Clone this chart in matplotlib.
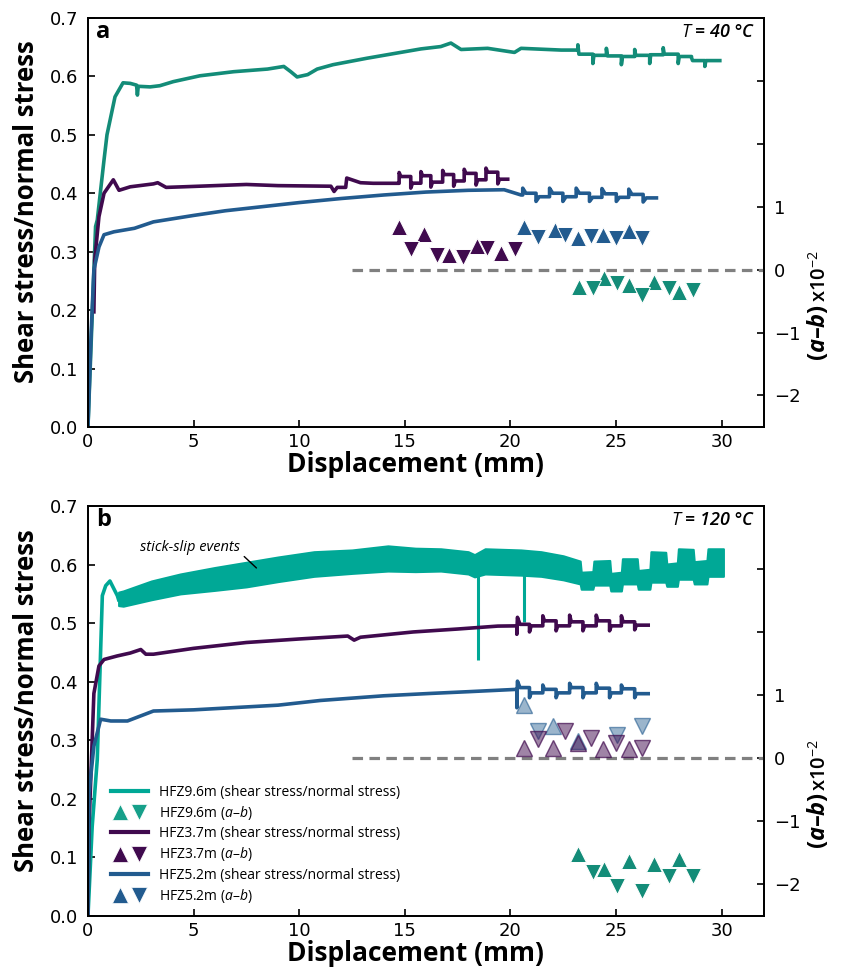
import matplotlib
matplotlib.use("Agg")
import matplotlib.pyplot as plt
from matplotlib.lines import Line2D
from matplotlib.colors import to_rgba
from matplotlib.legend_handler import HandlerTuple

plt.rcParams['mathtext.fontset'] = 'custom'
plt.rcParams['mathtext.rm'] = 'Open Sans'
plt.rcParams['mathtext.it'] = 'Open Sans:italic'
plt.rcParams['mathtext.bf'] = 'Open Sans:italic:bold'

TEAL = '#138c78'
TEAL_B = '#00a896'
PURPLE = '#400a4e'
BLUE = '#225b8f'
GREY = '#808080'

# ---------------- panel a (T = 40 C) ----------------
a_teal_x = [0, 0.36, 0.44, 0.76, 0.9, 1.28, 1.66, 2.0, 2.3, 2.34, 2.38, 2.94, 3.4, 4.04, 5.3, 6.9,
            8.5, 9.27, 9.6, 9.9, 10.4, 10.85, 11.6, 13.2, 14.8, 15.76, 16.7, 17.18, 17.66, 18.92,
            20.19, 20.5, 22.4]
a_teal_y = [0, 0.343, 0.354, 0.457, 0.5, 0.565, 0.589, 0.588, 0.585, 0.568, 0.583, 0.582, 0.584,
            0.591, 0.601, 0.608, 0.6125, 0.617, 0.608, 0.599, 0.603, 0.6125, 0.62, 0.631, 0.641,
            0.647, 0.651, 0.657, 0.646, 0.648, 0.641, 0.648, 0.645]
a_teal_step_x = [23.19, 23.9, 24.54, 25.25, 25.88, 26.59, 27.23, 27.94, 28.57, 29.2]
a_teal_spike = [0.654, 0.622, 0.648, 0.620, 0.646, 0.622, 0.649, 0.622, 0.632, 0.617]
a_teal_level = [0.638, 0.636, 0.635, 0.634, 0.636, 0.637, 0.638, 0.634, 0.627, 0.627]
a_teal_end = 29.91

a_purple_x = [0.28, 0.32, 0.52, 0.76, 1.2, 1.47, 2.0, 3.1, 3.3, 3.7, 4.5, 6.0, 7.5, 9.0, 11.5,
              11.65, 11.8, 12.2, 12.25, 12.9, 13.5, 14.7]
a_purple_y = [0.197, 0.286, 0.36, 0.40, 0.423, 0.405, 0.411, 0.416, 0.418, 0.41, 0.411, 0.413,
              0.415, 0.413, 0.412, 0.403, 0.41, 0.41, 0.426, 0.418, 0.417, 0.417]
a_purple_step_x = [14.73, 15.28, 15.76, 16.23, 16.79, 17.31, 17.81, 18.37, 18.84, 19.4]
a_purple_spike = [0.4355, 0.4087, 0.437, 0.4105, 0.439, 0.412, 0.441, 0.414, 0.443, 0.416]
a_purple_level = [0.4286, 0.4172, 0.430, 0.419, 0.432, 0.421, 0.434, 0.423, 0.436, 0.424]
a_purple_end = 19.87

a_blue_x = [0, 0.15, 0.28, 0.52, 0.76, 1.23, 2.2, 3.1, 5.0, 6.5, 8.0, 10.0, 12.0, 14.0, 16.0,
            18.0, 19.7, 20.5]
a_blue_y = [0, 0.16, 0.269, 0.308, 0.329, 0.334, 0.34, 0.351, 0.362, 0.37, 0.376, 0.384, 0.391,
            0.397, 0.402, 0.405, 0.406, 0.397]
a_blue_step_x = [20.58, 21.21, 21.85, 22.48, 23.11, 23.74, 24.33, 25.01, 25.6, 26.28]
a_blue_spike = [0.4087, 0.386, 0.4087, 0.386, 0.4087, 0.386, 0.408, 0.386, 0.407, 0.385]
a_blue_level = [0.400, 0.394, 0.400, 0.394, 0.400, 0.393, 0.399, 0.393, 0.398, 0.392]
a_blue_end = 26.91

# (a-b) x10^-2, alternating up-step / down-step
a_purple_ab_x = [14.7, 15.3, 15.9, 16.5, 17.1, 17.75, 18.4, 18.9, 19.55, 20.2]
a_purple_ab = [0.67, 0.33, 0.57, 0.23, 0.23, 0.20, 0.37, 0.35, 0.26, 0.33]
a_blue_ab_x = [20.65, 21.3, 22.1, 22.6, 23.2, 23.8, 24.4, 25.0, 25.6, 26.25]
a_blue_ab = [0.67, 0.52, 0.63, 0.55, 0.50, 0.54, 0.55, 0.50, 0.62, 0.50]
a_teal_ab_x = [23.25, 23.9, 24.45, 25.05, 25.6, 26.25, 26.8, 27.5, 28.0, 28.65]
a_teal_ab = [-0.27, -0.29, -0.14, -0.22, -0.25, -0.41, -0.19, -0.29, -0.36, -0.32]

# ---------------- panel b (T = 120 C) ----------------
b_teal_x = [0, 0.2, 0.44, 0.68, 0.84, 1.04, 1.39, 1.45]
b_teal_y = [0, 0.153, 0.267, 0.547, 0.564, 0.572, 0.547, 0.54]
band_x = [1.45, 1.67, 3.0, 4.37, 6.0, 7.5, 9.0, 10.7, 12.5, 14.2, 15.5, 16.7, 18.0, 18.3, 18.8,
          20.5, 21.45, 22.5, 23.3, 23.35, 23.9, 23.95, 24.7, 24.75, 25.25, 25.3, 26.0, 26.05,
          26.6, 26.65, 27.35, 27.4, 27.9, 27.95, 28.65, 28.7, 29.3, 29.35, 30.08]
band_hi = [0.553, 0.555, 0.572, 0.584, 0.595, 0.604, 0.613, 0.622, 0.625, 0.632, 0.628, 0.627,
           0.622, 0.617, 0.627, 0.625, 0.622, 0.615, 0.606, 0.587, 0.588, 0.606, 0.607, 0.585,
           0.587, 0.610, 0.610, 0.590, 0.592, 0.622, 0.621, 0.601, 0.603, 0.627, 0.626, 0.605,
           0.607, 0.627, 0.627]
band_lo = [0.530, 0.529, 0.540, 0.550, 0.556, 0.562, 0.571, 0.580, 0.585, 0.589, 0.588, 0.589,
           0.584, 0.579, 0.584, 0.582, 0.580, 0.574, 0.567, 0.558, 0.558, 0.565, 0.565, 0.555,
           0.555, 0.567, 0.567, 0.558, 0.558, 0.570, 0.570, 0.563, 0.563, 0.575, 0.575, 0.567,
           0.567, 0.580, 0.580]
drop_x = [18.45, 20.63]
drop_low = [0.437, 0.502]
drop_top = [0.60, 0.60]

b_purple_x = [0, 0.05, 0.28, 0.52, 0.76, 1.38, 2.0, 2.5, 2.74, 3.1, 5.0, 7.5, 10.0, 12.3, 12.6,
              12.9, 15.4, 17.5, 19.4, 20.3, 20.3, 20.33, 20.45]
b_purple_y = [0, 0.153, 0.38, 0.427, 0.438, 0.444, 0.449, 0.455, 0.447, 0.447, 0.457, 0.467,
              0.473, 0.478, 0.471, 0.476, 0.485, 0.49, 0.495, 0.4954, 0.481, 0.51, 0.498]
b_purple_step_x = [20.9, 21.53, 22.16, 22.8, 23.43, 24.06, 24.69, 25.25, 25.88]
b_purple_spike = [0.485, 0.5126, 0.4869, 0.5137, 0.4869, 0.5137, 0.4869, 0.5126, 0.4886]
b_purple_level = [0.4954, 0.504, 0.4954, 0.5023, 0.4954, 0.504, 0.4954, 0.5023, 0.4966]
b_purple_end = 26.52

b_blue_x = [0, 0.05, 0.28, 0.6, 1.08, 1.87, 3.1, 5.0, 7.0, 9.0, 11.0, 12.5, 14.0, 16.2, 18.0,
            20.3, 20.3, 20.33, 20.45]
b_blue_y = [0, 0.21, 0.29, 0.336, 0.333, 0.333, 0.35, 0.352, 0.356, 0.36, 0.368, 0.372, 0.376,
            0.38, 0.383, 0.387, 0.3556, 0.401, 0.39]
b_blue_step_x = [20.9, 21.53, 22.16, 22.8, 23.43, 24.06, 24.69, 25.25, 25.88]
b_blue_spike = [0.3727, 0.3944, 0.3727, 0.3973, 0.3727, 0.3973, 0.3727, 0.3944, 0.3727]
b_blue_level = [0.381, 0.387, 0.381, 0.390, 0.381, 0.389, 0.381, 0.388, 0.3796]
b_blue_end = 26.52

b_teal_ab_x = [23.2, 23.9, 24.45, 25.05, 25.6, 26.25, 26.8, 27.5, 28.0, 28.65]
b_teal_ab = [-1.52, -1.81, -1.76, -2.03, -1.63, -2.10, -1.68, -1.87, -1.60, -1.87]
b_purple_ab_x = [20.65, 21.3, 22.0, 22.6, 23.2, 23.8, 24.4, 25.0, 25.6, 26.25]
b_purple_ab = [0.16, 0.30, 0.16, 0.43, 0.24, 0.32, 0.14, 0.24, 0.14, 0.17]
b_blue_up_x = [20.65, 22.0, 23.2]
b_blue_up = [0.84, 0.51, 0.27]
b_blue_dn_x = [21.3, 25.05, 26.25]
b_blue_dn = [0.43, 0.37, 0.52]

dash_x = [12.5, 32]


def with_steps(bx, by, sx, spike, level, x_end, lag=0.1):
    xs, ys = list(bx), list(by)
    for s, p, l in zip(sx, spike, level):
        prev = ys[-1]
        xs += [s, s, s + lag]
        ys += [prev, p, l]
    xs.append(x_end)
    ys.append(ys[-1])
    return xs, ys


def ab_markers(ax2, xs, vs, color):
    ax2.plot(xs[0::2], vs[0::2], ls='', marker='^', ms=11, mfc=color, mec='white', mew=0.7)
    ax2.plot(xs[1::2], vs[1::2], ls='', marker='v', ms=11, mfc=color, mec='white', mew=0.7)


def style_axes(ax, ax2, label, temp):
    ax.set_xlim(0, 32)
    ax.set_ylim(0, 0.7)
    ax.set_xticks([0, 5, 10, 15, 20, 25, 30])
    ax.set_yticks([0, 0.1, 0.2, 0.3, 0.4, 0.5, 0.6, 0.7])
    ax.set_yticklabels(['0.0', '0.1', '0.2', '0.3', '0.4', '0.5', '0.6', '0.7'])
    ax.tick_params(direction='in', length=5, width=1.2, labelsize=13, pad=4)
    ax.tick_params(axis='y', pad=7)
    ax2.set_ylim(-2.5, 4)
    ax2.set_yticks([-2, -1, 0, 1, 2, 3])
    ax2.set_yticklabels(['\u22122', '\u22121', '0', '1', '', ''])
    ax2.tick_params(direction='in', length=5, width=1.2, labelsize=13, pad=7)
    for sp in list(ax.spines.values()) + list(ax2.spines.values()):
        sp.set_linewidth(1.3)
    ax.set_xlabel('Displacement (mm)', family='Open Sans', fontweight='bold', fontsize=19)
    ax.xaxis.set_label_coords(0.485, -0.058)
    ax.set_ylabel('Shear stress/normal stress', family='Open Sans', fontweight='bold',
                  fontsize=18.5)
    ax.yaxis.set_label_coords(-0.071, 0.526)
    # right-hand (a-b) label, set lower than centre as in the original
    ax.text(1.08, 0.232, r'($\mathbf{a}$–$\mathbf{b}$)', transform=ax.transAxes, rotation=90,
            family='Open Sans', fontweight='bold', fontsize=17, ha='center', va='center')
    ax.text(1.082, 0.368, r'x10$^{-2}$', transform=ax.transAxes, rotation=90,
            family='Open Sans', fontweight='semibold', fontsize=14.5, ha='center', va='center')
    ax.text(0.012, 0.966, label, transform=ax.transAxes, family='Open Sans', fontweight='bold',
            fontsize=17, ha='left', va='center')
    ax.text(0.987, 0.966, r'$\mathit{T}$ = ' + temp + ' °C', transform=ax.transAxes,
            family='Open Sans', fontstyle='italic', fontweight='semibold', fontsize=13,
            ha='right', va='center')
    ax2.hlines(0, dash_x[0], dash_x[1], colors=GREY, lw=2.3, linestyles=(0, (3.3, 2.0)))


fig = plt.figure(figsize=(8.41, 9.75), dpi=100)

# ---- panel a ----
ax = fig.add_axes([0.1046, 0.5621, 0.8038, 0.4195])
ax2 = ax.twinx()
x, y = with_steps(a_teal_x, a_teal_y, a_teal_step_x, a_teal_spike, a_teal_level, a_teal_end, 0.05)
ax.plot(x, y, color=TEAL, lw=2.6)
x, y = with_steps(a_purple_x, a_purple_y, a_purple_step_x, a_purple_spike, a_purple_level,
                  a_purple_end, 0.08)
ax.plot(x, y, color=PURPLE, lw=2.6)
x, y = with_steps(a_blue_x, a_blue_y, a_blue_step_x, a_blue_spike, a_blue_level, a_blue_end, 0.15)
ax.plot(x, y, color=BLUE, lw=2.6)
style_axes(ax, ax2, 'a', '40')
ab_markers(ax2, a_purple_ab_x, a_purple_ab, PURPLE)
ab_markers(ax2, a_blue_ab_x, a_blue_ab, BLUE)
ab_markers(ax2, a_teal_ab_x, a_teal_ab, TEAL)

# ---- panel b ----
bx = fig.add_axes([0.1046, 0.0605, 0.8038, 0.4205])
bx2 = bx.twinx()
bx.plot(b_teal_x, b_teal_y, color=TEAL_B, lw=2.6)
bx.fill_between(band_x, band_lo, band_hi, color=TEAL_B, lw=1.5, edgecolor=TEAL_B)
bx.vlines(drop_x, drop_low, drop_top, colors=TEAL_B, lw=2.2)
x, y = with_steps(b_purple_x, b_purple_y, b_purple_step_x, b_purple_spike, b_purple_level,
                  b_purple_end, 0.08)
bx.plot(x, y, color=PURPLE, lw=2.6)
x, y = with_steps(b_blue_x, b_blue_y, b_blue_step_x, b_blue_spike, b_blue_level, b_blue_end, 0.08)
bx.plot(x, y, color=BLUE, lw=2.6)
style_axes(bx, bx2, 'b', '120')
bx.text(4.84, 0.63, 'stick-slip events', family='Open Sans', fontstyle='italic', fontsize=10.5,
        ha='center', va='center')
bx.annotate('', xy=(8.07, 0.591), xytext=(7.3, 0.617),
            arrowprops=dict(arrowstyle='-', color='black', lw=1))

ab_markers(bx2, b_teal_ab_x, b_teal_ab, TEAL)
light_blue = to_rgba(BLUE, 0.45)
bx2.plot(b_blue_up_x, b_blue_up, ls='', marker='^', ms=11, mfc=light_blue,
         mec=to_rgba(BLUE, 0.6), mew=1)
bx2.plot(b_blue_dn_x, b_blue_dn, ls='', marker='v', ms=11, mfc=light_blue,
         mec=to_rgba(BLUE, 0.6), mew=1)
light_purple = to_rgba(PURPLE, 0.5)
bx2.plot(b_purple_ab_x[0::2], b_purple_ab[0::2], ls='', marker='^', ms=11, mfc=light_purple,
         mec=to_rgba(PURPLE, 0.7), mew=1)
bx2.plot(b_purple_ab_x[1::2], b_purple_ab[1::2], ls='', marker='v', ms=11, mfc=light_purple,
         mec=to_rgba(PURPLE, 0.7), mew=1)


def pair(color):
    up = Line2D([], [], ls='', marker='^', ms=11, color=color, mec='white', mew=0.5)
    dn = Line2D([], [], ls='', marker='v', ms=11, color=color, mec='white', mew=0.5)
    return (up, dn)


handles = [Line2D([], [], color=TEAL_B, lw=3), pair('#16a08a'),
           Line2D([], [], color=PURPLE, lw=3), pair(PURPLE),
           Line2D([], [], color=BLUE, lw=3), pair(BLUE)]
labels = ['HFZ9.6m (shear stress/normal stress)', r'HFZ9.6m ($\mathit{a}$–$\mathit{b}$)',
          'HFZ3.7m (shear stress/normal stress)', r'HFZ3.7m ($\mathit{a}$–$\mathit{b}$)',
          'HFZ5.2m (shear stress/normal stress)', r'HFZ5.2m ($\mathit{a}$–$\mathit{b}$)']
leg = bx2.legend(handles, labels, handler_map={tuple: HandlerTuple(ndivide=None, pad=0)},
                 loc='lower left', bbox_to_anchor=(0.015, -0.003), frameon=False,
                 prop={'family': 'Open Sans', 'size': 10}, handlelength=2.7,
                 handletextpad=0.8, labelspacing=0.3, borderaxespad=0.5)

fig.savefig('out.png', dpi=100)
